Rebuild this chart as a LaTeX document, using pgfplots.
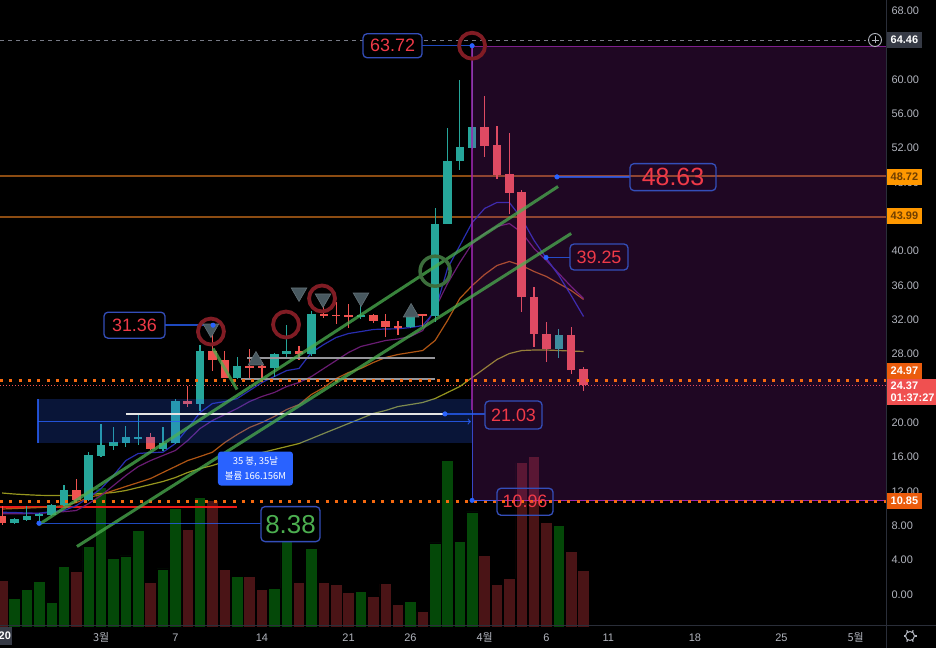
\documentclass[border=0pt]{standalone}
\usepackage{fontspec}
\setmainfont{Liberation Sans}
\newfontfamily\kr{Noto Sans CJK KR}
\usepackage{pgfplots}
\usepackage{pgfplotstable}
\pgfplotsset{compat=1.18}

\definecolor{bgc}{RGB}{0,0,0}
\definecolor{axtext}{RGB}{178,181,190}
\definecolor{sepc}{RGB}{42,46,57}
\definecolor{upc}{RGB}{38,166,154}
\definecolor{dnc}{RGB}{239,83,80}
\definecolor{volg}{RGB}{4,72,8}
\definecolor{volr}{RGB}{74,20,22}
\definecolor{mablue}{RGB}{40,45,175}
\definecolor{mapurp}{RGB}{105,28,115}
\definecolor{maorg}{RGB}{175,85,20}
\definecolor{mayel}{RGB}{150,150,30}
\definecolor{brownl}{RGB}{140,76,18}
\definecolor{dotorg}{RGB}{245,105,15}
\definecolor{redl}{RGB}{235,25,25}
\definecolor{greyl}{RGB}{150,150,155}
\definecolor{tvblue}{RGB}{41,98,255}
\definecolor{trendg}{RGB}{76,175,80}
\definecolor{circr}{RGB}{128,28,36}
\definecolor{circg}{RGB}{60,110,60}
\definecolor{trif}{RGB}{72,88,95}
\definecolor{lblb}{RGB}{52,78,185}
\definecolor{lblt}{RGB}{240,58,72}
\definecolor{rangep}{RGB}{156,39,176}
\definecolor{lblgrey}{RGB}{54,58,69}
\definecolor{orangeA}{RGB}{255,152,0}
\definecolor{orangeTxt}{RGB}{110,62,0}
\definecolor{orangeB}{RGB}{235,92,12}
\definecolor{redB}{RGB}{240,80,80}
\definecolor{dashg}{RGB}{120,123,134}

% candles: index (days from Feb 22), open, high, low, close
\pgfplotstableread{
i o h l c
0 8.35 8.93 8.20 8.80
1 8.73 10.25 8.60 9.16
2 9.20 9.50 8.40 9.40
3 9.28 10.50 9.20 10.44
4 10.40 12.70 10.30 12.20
6 11.00 16.60 10.90 16.20
7 16.10 19.80 16.00 17.40
8 17.30 19.50 16.80 17.80
9 17.70 19.60 17.20 18.30
10 18.15 21.00 17.40 18.32
12 17.00 19.50 16.70 17.70
13 17.70 22.80 17.50 22.50
15 22.20 29.00 21.40 28.30
18 25.25 27.60 25.10 26.60
21 26.40 28.10 25.30 27.95
22 27.95 31.40 27.40 28.40
24 28.00 33.07 27.83 32.70
28 32.35 35.00 32.10 32.50
32 31.10 33.50 31.00 32.70
34 32.40 45.00 31.70 43.20
35 43.20 54.30 43.10 50.50
36 50.50 59.90 49.40 52.10
37 52.00 63.72 51.90 54.40
44 28.60 30.90 27.56 30.24
}\upt
\pgfplotstableread{
i o h l c
-1 9.20 10.25 8.15 8.30
5 12.20 13.40 10.90 11.00
11 18.30 18.80 16.80 17.00
14 22.50 24.30 21.80 22.20
16 28.40 31.36 26.00 27.25
17 27.25 28.30 25.20 25.25
19 26.62 28.60 25.10 26.45
20 26.60 27.05 25.20 26.40
23 28.40 28.90 27.36 28.00
25 32.70 34.40 32.20 32.45
26 32.60 34.05 31.50 32.45
27 32.50 33.85 31.00 32.30
29 32.50 32.70 31.60 31.90
30 31.90 32.70 30.04 31.20
31 31.30 31.80 30.20 31.10
33 32.65 32.70 31.10 32.45
38 54.40 58.10 51.00 52.20
39 52.30 54.60 48.40 48.90
40 49.00 53.70 44.30 46.80
41 46.85 47.10 32.90 34.70
42 34.70 35.86 28.80 30.36
43 30.36 31.70 27.05 28.60
45 30.24 31.10 25.70 26.20
46 26.30 26.55 23.70 24.37
}\dnt
% volume (M)
\pgfplotstableread{
i v
0 1.96
1 2.59
2 3.16
3 1.74
4 4.13
6 5.53
7 9.48
8 4.72
9 4.87
10 6.59
12 3.99
13 8.12
15 8.80
18 3.45
21 2.64
22 7.18
24 5.35
28 2.46
32 1.78
34 5.75
35 11.35
36 5.82
37 7.85
44 6.91
}\volup
\pgfplotstableread{
i v
-1 3.23
5 3.79
11 3.05
14 6.65
16 8.64
17 3.95
19 3.45
20 2.59
23 3.09
25 3.05
26 2.93
27 2.37
29 2.10
30 2.98
31 1.58
33 1.10
38 4.92
39 2.93
40 3.36
41 11.17
42 11.62
43 7.11
45 5.19
46 3.88
}\voldn
% moving averages
\pgfplotstableread{
i b pu o y
-1 9.58 9.40 9.96 11.82
0 9.55 9.40 10.01 11.70
1 9.49 9.42 10.07 11.62
2 9.47 9.45 10.13 11.55
3 9.66 9.55 10.19 11.53
4 9.78 9.65 10.36 11.53
5 10.36 9.78 10.71 11.53
6 11.30 10.60 11.30 11.64
7 12.34 11.53 11.64 11.76
8 13.86 12.69 12.11 11.88
9 15.60 13.86 12.58 12.11
10 16.42 14.90 13.04 12.46
11 16.53 15.60 13.51 12.81
12 16.57 16.19 14.21 13.16
13 17.58 16.77 14.90 13.62
14 19.33 17.93 15.60 14.21
15 21.20 19.33 16.07 14.67
16 22.24 20.26 16.57 15.02
17 22.47 20.96 17.70 15.49
18 22.82 21.66 18.63 15.84
19 23.75 22.47 19.45 16.19
20 24.69 23.06 20.03 16.53
21 25.38 23.52 20.73 16.88
22 26.08 24.22 21.54 17.23
23 26.32 24.69 22.12 17.58
24 28.18 25.38 23.29 18.16
25 29.11 26.32 24.10 18.75
26 29.93 27.25 25.15 19.33
27 30.39 28.18 25.85 19.91
28 30.62 28.88 26.32 20.49
29 30.86 29.23 27.01 21.08
30 30.92 29.58 27.60 21.43
31 30.94 29.75 27.95 21.89
32 31.09 30.04 28.18 22.12
33 31.32 30.74 28.41 22.36
34 33.00 33.30 29.58 22.82
35 37.96 36.20 31.90 23.52
36 40.64 38.66 34.47 24.22
37 43.32 40.87 35.98 25.27
38 44.95 42.04 37.26 26.32
39 45.65 42.85 38.31 27.36
40 45.65 43.20 38.78 28.06
41 43.79 42.15 38.31 28.41
42 41.23 40.29 37.61 28.47
43 39.13 38.89 37.03 28.47
44 37.15 37.38 36.21 28.41
45 34.82 35.86 35.40 28.35
46 32.37 34.47 34.36 28.30
}\mat

\tikzset{
  lbl/.style={draw=lblb, line width=1.3bp, rounded corners=4bp, text=lblt, inner sep=0pt},
  pbox/.style={anchor=west, minimum height=16bp, inner xsep=3.5bp, inner ysep=0pt, font=\fontsize{11}{12}\selectfont\bfseries},
}

\begin{document}
\begin{tikzpicture}[x=1bp,y=1bp]
\path[use as bounding box] (0,0) rectangle (936,648);
\fill[bgc] (0,0) rectangle (936,648);

% volume pane
\begin{axis}[at={(0,13)}, anchor=south west, scale only axis,
  width=886bp, height=626bp, xmin=-1.172, xmax=70.45, ymin=-0.068, ymax=42.32,
  hide axis]
\addplot [ybar, bar width=0.93, bar shift=0pt, fill=volg, draw=black, line width=0.7bp] table [x=i, y=v] {\volup};
\addplot [ybar, bar width=0.93, bar shift=0pt, fill=volr, draw=black, line width=0.7bp] table [x=i, y=v] {\voldn};
\end{axis}

% price pane
\begin{axis}[at={(0,25)}, anchor=south west, scale only axis,
  width=886bp, height=626bp, xmin=-1.172, xmax=70.45, ymin=-3.726, ymax=69.166,
  axis line style={draw=none}, major tick length=0pt,
  /pgf/number format/assume math mode=true,
  ytick={0,4,8,12,16,20,28,32,36,40,48,52,56,60,68},
  yticklabel pos=right,
  yticklabel={\pgfmathprintnumber[fixed,fixed zerofill,precision=2]{\tick}},
  yticklabel style={anchor=west, xshift=2bp, font=\fontsize{11}{12}\selectfont, text=axtext},
  xtick={7,13,20,27,32,38,43,48,55,62,68},
  xticklabels={{\kr 3월},7,14,21,26,{\kr 4월},6,11,18,25,{\kr 5월}},
  xticklabel style={anchor=center, yshift=-11bp, font=\fontsize{11}{12}\selectfont, text=axtext},
]
% horizontal levels
\addplot [brownl, line width=2bp] coordinates {(-1.172,48.72) (70.45,48.72)};
\addplot [brownl, line width=2bp] coordinates {(-1.172,43.99) (70.45,43.99)};
\addplot [dashg, line width=1bp, dash pattern=on 4bp off 4bp] coordinates {(-1.172,64.46) (68.84,64.46)};
\addplot [redl, line width=2bp] coordinates {(-1.172,10.19) (18.0,10.19)};
\addplot [dnc, line width=0.8bp, dash pattern=on 1bp off 2bp] coordinates {(-1.172,24.37) (70.45,24.37)};
% moving averages
\addplot [mayel, line width=1.2bp] table [x=i, y=y] {\mat};
\addplot [maorg, line width=1.2bp] table [x=i, y=o] {\mat};
\addplot [mapurp, line width=1.2bp] table [x=i, y=pu] {\mat};
\addplot [mablue, line width=1.2bp] table [x=i, y=b] {\mat};
% candles: wicks and bodies
\addplot [draw=none, error bars/.cd, y dir=both, y explicit, error mark=none,
  error bar style={line width=1.2bp, draw=upc}]
  table [x=i, y expr={(\thisrow{h}+\thisrow{l})/2}, y error expr={(\thisrow{h}-\thisrow{l})/2}] {\upt};
\addplot [draw=none, error bars/.cd, y dir=both, y explicit, error mark=none,
  error bar style={line width=1.2bp, draw=dnc}]
  table [x=i, y expr={(\thisrow{h}+\thisrow{l})/2}, y error expr={(\thisrow{h}-\thisrow{l})/2}] {\dnt};
\addplot [draw=none, error bars/.cd, y dir=both, y explicit, error mark=none,
  error bar style={line width=8.5bp, draw=upc, line cap=butt}]
  table [x=i, y expr={(\thisrow{o}+\thisrow{c})/2}, y error expr={abs(\thisrow{c}-\thisrow{o})/2}] {\upt};
\addplot [draw=none, error bars/.cd, y dir=both, y explicit, error mark=none,
  error bar style={line width=8.5bp, draw=dnc, line cap=butt}]
  table [x=i, y expr={(\thisrow{o}+\thisrow{c})/2}, y error expr={abs(\thisrow{c}-\thisrow{o})/2}] {\dnt};
% grey support lines
\addplot [greyl, line width=2bp] coordinates {(18.8,27.54) (34.0,27.54)};
\addplot [greyl, line width=2bp] coordinates {(18.3,25.15) (34.0,25.15)};
% blue measure box
\addplot [fill=tvblue, fill opacity=0.22, draw=none] coordinates {(1.9,17.62) (37,17.62) (37,22.8) (1.9,22.8)} -- cycle;
\addplot [tvblue, opacity=0.8, line width=1.2bp] coordinates {(1.9,17.62) (1.9,22.8)};
\addplot [tvblue, opacity=0.8, line width=1.2bp, ->] coordinates {(1.9,20.14) (36.9,20.14)};
\addplot [tvblue, opacity=0.8, line width=1.2bp] coordinates {(37,21.5) (37,10.96)};
\addplot [white!80!gray, line width=2bp] coordinates {(9.0,21.03) (34.8,21.03)};
% purple date range
\addplot [fill=rangep, fill opacity=0.2, draw=none] coordinates {(36.99,10.96) (70.45,10.96) (70.45,63.8) (36.99,63.8)} -- cycle;
\addplot [rangep, opacity=0.8, line width=1.2bp] coordinates {(36.99,21.5) (36.99,63.8) (70.45,63.8)};
\addplot [rangep, line width=1.4bp] coordinates {(36.99,10.96) (70.45,10.96)};
% dotted orange levels
\addplot [dotorg, line width=3bp, dash pattern=on 3bp off 6.3bp] coordinates {(-1.172,24.97) (70.45,24.97)};
\addplot [dotorg, line width=3bp, dash pattern=on 3bp off 6.3bp] coordinates {(-1.172,10.85) (70.45,10.85)};
% trend lines
\addplot [trendg, opacity=0.75, line width=3bp] coordinates {(1.98,8.15) (43.94,47.51)};
\addplot [trendg, opacity=0.75, line width=3bp] coordinates {(5.05,5.59) (45.0,42.04)};
\addplot [trendg, opacity=0.75, line width=3bp] coordinates {(16.05,28.64) (17.99,23.87)};
% circles and triangles
\addplot [only marks, mark=o, mark size=13bp, mark options={draw=circr, line width=3.8bp}] coordinates {(15.88,30.62) (21.95,31.44) (24.86,34.47) (36.99,63.9)};
\addplot [only marks, mark=o, mark size=15bp, mark options={draw=circg, line width=3.5bp}] coordinates {(34.0,37.65)};
\addplot [only marks, mark=triangle*, mark size=9bp, mark options={rotate=180, fill=trif, draw=trif!85!white, line width=0.6bp}] coordinates {(15.88,30.97) (23.0,35.17) (24.94,34.47) (28.01,34.58)};
\addplot [only marks, mark=triangle*, mark size=9bp, mark options={fill=trif, draw=trif!85!white, line width=0.6bp}] coordinates {(19.52,27.25) (32.06,32.84)};
% label connectors
\addplot [tvblue, opacity=0.75, line width=1.4bp] coordinates {(32.94,63.9) (36.99,63.9)};
\addplot [tvblue, opacity=0.75, line width=1.4bp] coordinates {(43.85,48.63) (49.76,48.63)};
\addplot [tvblue, opacity=0.75, line width=1.4bp] coordinates {(42.97,39.25) (44.9,39.25)};
\addplot [tvblue, opacity=0.75, line width=1.4bp] coordinates {(12.17,31.36) (16.05,31.36)};
\addplot [tvblue, opacity=0.75, line width=1.4bp] coordinates {(34.8,21.03) (38.04,21.03)};
\addplot [tvblue, opacity=0.75, line width=1.4bp] coordinates {(36.99,10.96) (39.0,10.96)};
\addplot [tvblue, opacity=0.75, line width=1.4bp] coordinates {(1.98,8.3) (19.93,8.3)};
\addplot [only marks, mark=*, mark size=2.3bp, mark options={fill=tvblue, draw=tvblue}] coordinates {(36.99,63.9) (43.85,48.63) (42.97,39.25) (16.05,31.36) (34.8,21.03) (36.99,10.96) (1.98,8.3)};
% labels
\node[lbl, fill=black, minimum width=59bp, minimum height=24bp, font=\fontsize{18}{18}\selectfont] at (axis cs:30.56,63.9) {63.72};
\node[lbl, minimum width=86bp, minimum height=27bp, font=\fontsize{25}{25}\selectfont] at (axis cs:53.23,48.6) {48.63};
\node[lbl, minimum width=58bp, minimum height=26bp, font=\fontsize{18}{18}\selectfont] at (axis cs:47.25,39.3) {39.25};
\node[lbl, fill=black, minimum width=61bp, minimum height=26bp, font=\fontsize{18}{18}\selectfont] at (axis cs:9.7,31.36) {31.36};
\node[lbl, minimum width=57bp, minimum height=28bp, font=\fontsize{18}{18}\selectfont] at (axis cs:40.34,20.9) {21.03};
\node[lbl, minimum width=56bp, minimum height=27bp, font=\fontsize{18}{18}\selectfont] at (axis cs:41.27,10.8) {10.96};
\node[lbl, fill=black, minimum width=59bp, minimum height=35bp, font=\fontsize{26}{26}\selectfont, text=trendg] at (axis cs:22.31,8.2) {8.38};
\node[fill=tvblue, rounded corners=3bp, minimum width=75bp, minimum height=34bp, text=white, align=center, inner sep=0pt, font=\kr\fontsize{9.5}{15}\selectfont] at (axis cs:19.48,14.67) {35 봉, 35날\\볼륨 166.156M};
\end{axis}

% pane separators
\draw[sepc, line width=1bp] (886,0) -- (886,648);
\draw[sepc, line width=1bp] (0,22) -- (936,22);
% plus icon on dashed level
\draw[axtext, line width=0.9bp] (875,608) circle (6.5);
\draw[axtext, line width=0.9bp] (871.5,608) -- (878.5,608) (875,604.5) -- (875,611.5);
% price-axis labels
\node[pbox, fill=lblgrey, text=white] at (887,608) {64.46};
\node[pbox, fill=orangeA, text=orangeTxt] at (887,471.4) {48.72};
\node[pbox, fill=orangeA, text=orangeTxt] at (887,431.8) {43.99};
\node[pbox, fill=orangeB, text=white] at (887,277) {24.97};
\node[pbox, fill=redB, text=white, align=left, minimum height=26bp] at (887,256) {24.37\\01:37:27};
\node[pbox, fill=orangeB, text=white] at (887,147) {10.85};
% date axis left label and settings icon
\node[fill=lblgrey, text=white, anchor=west, inner xsep=1.5bp, minimum height=18bp, font=\fontsize{11}{12}\selectfont\bfseries] at (-3,12) {20};
\draw[axtext, line width=1bp] (910,12) circle (4.5);
\foreach \a in {0,60,...,300} \draw[axtext, line width=1.2bp] ({910+4.5*cos(\a)},{12+4.5*sin(\a)}) -- ({910+6.5*cos(\a)},{12+6.5*sin(\a)});
\end{tikzpicture}
\end{document}
